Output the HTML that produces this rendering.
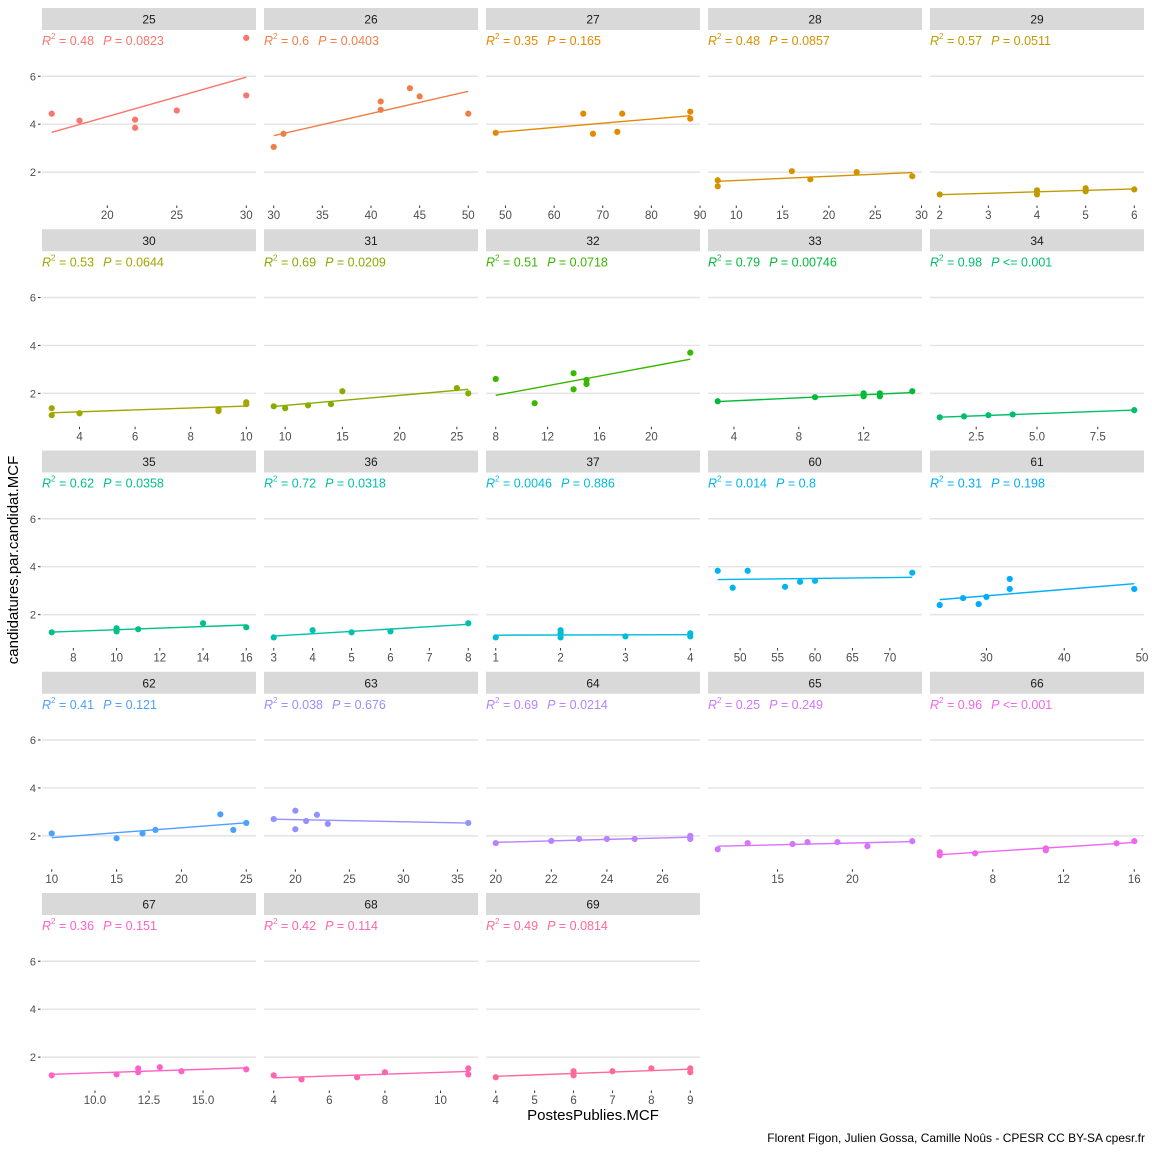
<!DOCTYPE html>
<html><head><meta charset="utf-8"><style>
html,body{margin:0;padding:0;background:#fff;}
svg{display:block;font-family:"Liberation Sans",sans-serif;}
</style></head><body>
<svg id="chart" width="1152" height="1152" viewBox="0 0 1152 1152" xmlns="http://www.w3.org/2000/svg">
<rect x="0" y="0" width="1152" height="1152" fill="#fff"/>
<text x="593" y="1120" text-anchor="middle" font-size="15" fill="#000">PostesPublies.MCF</text>
<text transform="translate(18,560) rotate(-90)" text-anchor="middle" font-size="15" fill="#000">candidatures.par.candidat.MCF</text>
<text x="1145" y="1142" text-anchor="end" font-size="12" fill="#000">Florent Figon, Julien Gossa, Camille Noûs - CPESR CC BY-SA cpesr.fr</text>
</svg>
<script>
const panelNames = ["25","26","27","28","29","30","31","32","33","34","35","36","37","60","61","62","63","64","65","66","67","68","69"];
const panelColors = ["#F8766D","#EF7F49","#E38900","#D49200","#C09B00","#A3A500","#86AC00","#39B600","#00BA38","#00BF6C","#00C08B","#00C1AA","#00BCD8","#00B4EF","#00ACFC","#4CA0FF","#9590FF","#B983FF","#D575FE","#EE67EE","#FF61C9","#FF64B0","#FF6A98"];
const r2Labels = ["0.48","0.6","0.35","0.48","0.57","0.53","0.69","0.51","0.79","0.98","0.62","0.72","0.0046","0.014","0.31","0.41","0.038","0.69","0.25","0.96","0.36","0.42","0.49"];
const pLabels = ["= 0.0823","= 0.0403","= 0.165","= 0.0857","= 0.0511","= 0.0644","= 0.0209","= 0.0718","= 0.00746","<= 0.001","= 0.0358","= 0.0318","= 0.886","= 0.8","= 0.198","= 0.121","= 0.676","= 0.0214","= 0.249","<= 0.001","= 0.151","= 0.114","= 0.0814"];
const xValues = [
 [16,18,22,22,25,30,30],
 [30,31,41,41,44,45,50],
 [48,66,68,73,74,88,88],
 [8,8,16,18,23,29],
 [2,4,4,5,5,6],
 [3,3,4,9,9,10,10],
 [9,10,12,14,15,25,26],
 [8,11,14,14,15,15,23],
 [3,9,12,12,13,13,15],
 [1,2,3,4,9],
 [7,10,10,11,14,16],
 [3,4,5,6,8],
 [1,2,2,2,3,4,4],
 [47,49,51,56,58,60,73],
 [24,27,29,30,33,33,49],
 [10,15,17,18,23,24,25],
 [18,20,20,21,22,23,36],
 [20,22,23,24,25,27,27],
 [11,13,16,17,19,21,24],
 [5,5,7,11,11,15,16],
 [8,11,12,12,13,14,17],
 [4,5,7,8,11,11],
 [4,6,6,7,8,9,9]
];
const yValues = [
 [4.44,4.15,4.19,3.85,4.57,5.2,7.6],
 [3.05,3.6,4.95,4.6,5.5,5.16,4.44],
 [3.64,4.44,3.6,3.68,4.44,4.52,4.23],
 [1.66,1.41,2.04,1.7,2.0,1.83],
 [1.07,1.24,1.07,1.33,1.2,1.28],
 [1.38,1.09,1.17,1.34,1.26,1.63,1.55],
 [1.46,1.38,1.5,1.55,2.09,2.22,2.0],
 [2.6,1.59,2.84,2.17,2.56,2.39,3.7],
 [1.67,1.84,2.0,1.88,2.0,1.88,2.09],
 [1.0,1.04,1.09,1.12,1.3],
 [1.26,1.43,1.3,1.39,1.64,1.47],
 [1.05,1.35,1.26,1.3,1.64],
 [1.05,1.35,1.22,1.05,1.09,1.22,1.09],
 [3.83,3.12,3.83,3.16,3.37,3.41,3.75],
 [2.4,2.69,2.44,2.74,3.49,3.07,3.07],
 [2.1,1.9,2.1,2.25,2.9,2.25,2.54],
 [2.7,3.05,2.28,2.62,2.88,2.5,2.54],
 [1.7,1.79,1.87,1.87,1.87,2.0,1.87],
 [1.44,1.7,1.66,1.74,1.74,1.57,1.78],
 [1.32,1.19,1.27,1.48,1.4,1.69,1.78],
 [1.24,1.28,1.53,1.37,1.58,1.41,1.49],
 [1.24,1.07,1.16,1.37,1.53,1.28],
 [1.16,1.41,1.24,1.41,1.53,1.53,1.37]
];
const xTickLabels = [
 ["20","25","30"],["30","35","40","45","50"],["50","60","70","80","90"],["10","15","20","25","30"],["2","3","4","5","6"],
 ["4","6","8","10"],["10","15","20","25"],["8","12","16","20"],["4","8","12"],["2.5","5.0","7.5"],
 ["8","10","12","14","16"],["3","4","5","6","7","8"],["1","2","3","4"],["50","55","60","65","70"],["30","40","50"],
 ["10","15","20","25"],["20","25","30","35"],["20","22","24","26"],["15","20"],["8","12","16"],
 ["10.0","12.5","15.0"],["4","6","8","10"],["4","5","6","7","8","9"]
];
const yTickLabels = ["2","4","6"];

const svg = document.getElementById('chart');
const NS = 'http://www.w3.org/2000/svg';
function mk(tag, attrs, parent){ const e=document.createElementNS(NS,tag); for(const k in attrs) e.setAttribute(k,attrs[k]); (parent||svg).appendChild(e); return e; }

let yAll = [].concat(...yValues);
let yMin = Math.min(...yAll), yMax = Math.max(...yAll);
const ySpan = yMax - yMin; const yLo = yMin - 0.05*ySpan, yHi = yMax + 0.05*ySpan;
const PW = 214, STRIP = 22, PH = 174;

panelNames.forEach((name, i) => {
  const r = Math.floor(i/5), c = i%5;
  const left = 42 + c*222, top = 8 + r*221.25;
  const pTop = top + STRIP, pBot = pTop + PH;
  const col = panelColors[i];
  const xs = xValues[i], ys = yValues[i];
  const xmn = Math.min(...xs), xmx = Math.max(...xs), sp = xmx - xmn;
  const xlo = xmn - 0.05*sp, xhi = xmx + 0.05*sp;
  const sx = v => left + (v - xlo)/(xhi - xlo)*PW;
  const sy = v => pBot - (v - yLo)/(yHi - yLo)*PH;
  const g = mk('g', {});
  
  
  yTickLabels.forEach(t => {
    const gl = mk('line', {x1:left, x2:left+PW, y1:sy(+t), y2:sy(+t), stroke:'#e3e3e3', 'stroke-width':1.4}, g);
    
    
    if (c === 0) {
      const tk = mk('line', {x1:left-4, x2:left-1.5, y1:sy(+t), y2:sy(+t), stroke:'#333', 'stroke-width':1}, g);
      
      
      const tl = mk('text', {x:left-6, y:sy(+t)+4, 'text-anchor':'end', 'font-size':11, fill:'#4d4d4d'}, g);
      tl.textContent = t;
      
      
    }
  });
  const st = mk('rect', {x:left, y:top, width:PW, height:STRIP, fill:'#d9d9d9'}, g);
  
  
  const stt = mk('text', {x:left+PW/2, y:top+15.5, 'text-anchor':'middle', 'font-size':12, fill:'#1a1a1a'}, g);
  stt.textContent = name;
  
  
  const lb = mk('text', {x:left, y:top+37, 'font-size':12.5, fill:col}, g);
  
  
  lb.innerHTML = '<tspan font-style="italic">R</tspan><tspan dy="-6" font-size="8">2</tspan><tspan dy="6"> = ' + r2Labels[i] + '</tspan><tspan dx="9" font-style="italic">P</tspan><tspan> ' + pLabels[i] + '</tspan>';
  xTickLabels[i].forEach(t => {
    const x = sx(parseFloat(t));
    const tk = mk('line', {x1:x, x2:x, y1:pBot+1.5, y2:pBot+4, stroke:'#333', 'stroke-width':1}, g);
    
    
    const tl = mk('text', {x:x, y:pBot+15, 'text-anchor':'middle', 'font-size':11.5, fill:'#4d4d4d'}, g);
    tl.textContent = t;
    
    
  });
  const n = xs.length; const mx = xs.reduce((a,b)=>a+b,0)/n, my = ys.reduce((a,b)=>a+b,0)/n;
  let sxy=0, sxx=0; for (let k=0;k<n;k++){ sxy += (xs[k]-mx)*(ys[k]-my); sxx += (xs[k]-mx)**2; }
  const b = sxy/sxx, a = my - b*mx;
  const ln = mk('line', {x1:sx(xmn), y1:sy(a+b*xmn), x2:sx(xmx), y2:sy(a+b*xmx), stroke:col, 'stroke-width':1.4}, g);
  
  
  for (let k=0;k<n;k++){
    const p = mk('circle', {cx:sx(xs[k]), cy:sy(ys[k]), r:3.1, fill:col}, g);
    
    
  }
});
</script>
</body></html>
